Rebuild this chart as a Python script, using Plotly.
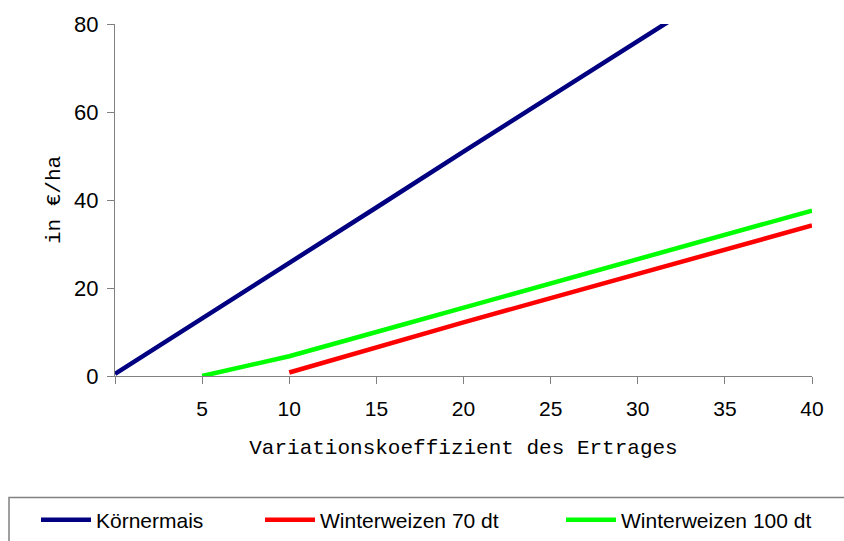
import plotly.graph_objects as go

x_vals = [0, 5, 10, 15, 20, 25, 30, 35, 40]
koernermais = [0.5, 13.0, 25.7, 38.3, 51.0, 63.5, 76.0, 88.6, 101.2]
ww70 = [None, None, 0.8, 6.6, 12.2, 17.7, 23.2, 28.7, 34.2]
ww100 = [None, 0.0, 4.5, 10.0, 15.5, 21.0, 26.5, 32.0, 37.6]
x_ticks = [0, 5, 10, 15, 20, 25, 30, 35, 40]
x_ticktext = ["", "5", "10", "15", "20", "25", "30", "35", "40"]
y_ticks = [0, 20, 40, 60, 80]

W, H = 844, 541
ml, mr, mt, mb = 115, 32, 20, 165

fig = go.Figure()
series = [
    ("Körnermais", koernermais, "#000080", "legend"),
    ("Winterweizen 70 dt", ww70, "#FF0000", "legend2"),
    ("Winterweizen 100 dt", ww100, "#00FF00", "legend3"),
]
for name, ys, col, lg in series:
    fig.add_trace(go.Scatter(x=x_vals, y=ys, mode="lines", name=name,
                             line=dict(color=col, width=4.5), legend=lg,
                             connectgaps=False))

leg_common = dict(orientation="h", xref="container", yref="container",
                  xanchor="left", yanchor="middle", bgcolor="rgba(0,0,0,0)",
                  borderwidth=0, itemwidth=50,
                  font=dict(family="Liberation Sans, Arial", size=21, color="black"))
y_leg = 1 - 520 / H
fig.update_layout(
    width=W, height=H,
    margin=dict(l=ml, r=mr, t=mt, b=mb),
    paper_bgcolor="white", plot_bgcolor="white",
    showlegend=True,
    legend=dict(x=(39 - 3) / W, y=y_leg, **leg_common),
    legend2=dict(x=(263 - 3) / W, y=y_leg, **leg_common),
    legend3=dict(x=(564 - 3) / W, y=y_leg, **leg_common),
    xaxis=dict(range=[0, 40], tickvals=x_ticks, ticktext=x_ticktext,
               showgrid=False, zeroline=False, showline=True, linecolor="#808080",
               linewidth=1, ticks="outside", ticklen=7, tickcolor="#808080",
               ticklabelstandoff=7,
               tickfont=dict(family="Liberation Sans, Arial", size=21, color="black"),
               title=dict(text="Variationskoeffizient des Ertrages",
                          font=dict(family="Liberation Mono, Courier New", size=21, color="black"),
                          standoff=20)),
    yaxis=dict(range=[0, 80], tickvals=y_ticks,
               showgrid=False, zeroline=False, showline=True, linecolor="#808080",
               linewidth=1, ticks="outside", ticklen=7, tickcolor="#808080",
               ticklabelstandoff=4,
               tickfont=dict(family="Liberation Sans, Arial", size=22, color="black"),
               title=dict(text="in €/ha",
                          font=dict(family="Liberation Mono, Courier New", size=21, color="black"),
                          standoff=7)),
)
pw = W - ml - mr
ph = H - mt - mb
fig.add_shape(type="rect", xref="paper", yref="paper",
              x0=(9 - ml) / pw, x1=(860 - ml) / pw,
              y0=(H - mb - 499) / ph, y1=(H - mb - 570) / ph,
              line=dict(color="#808080", width=1.5), fillcolor="rgba(0,0,0,0)")

fig.write_html("out.html")
